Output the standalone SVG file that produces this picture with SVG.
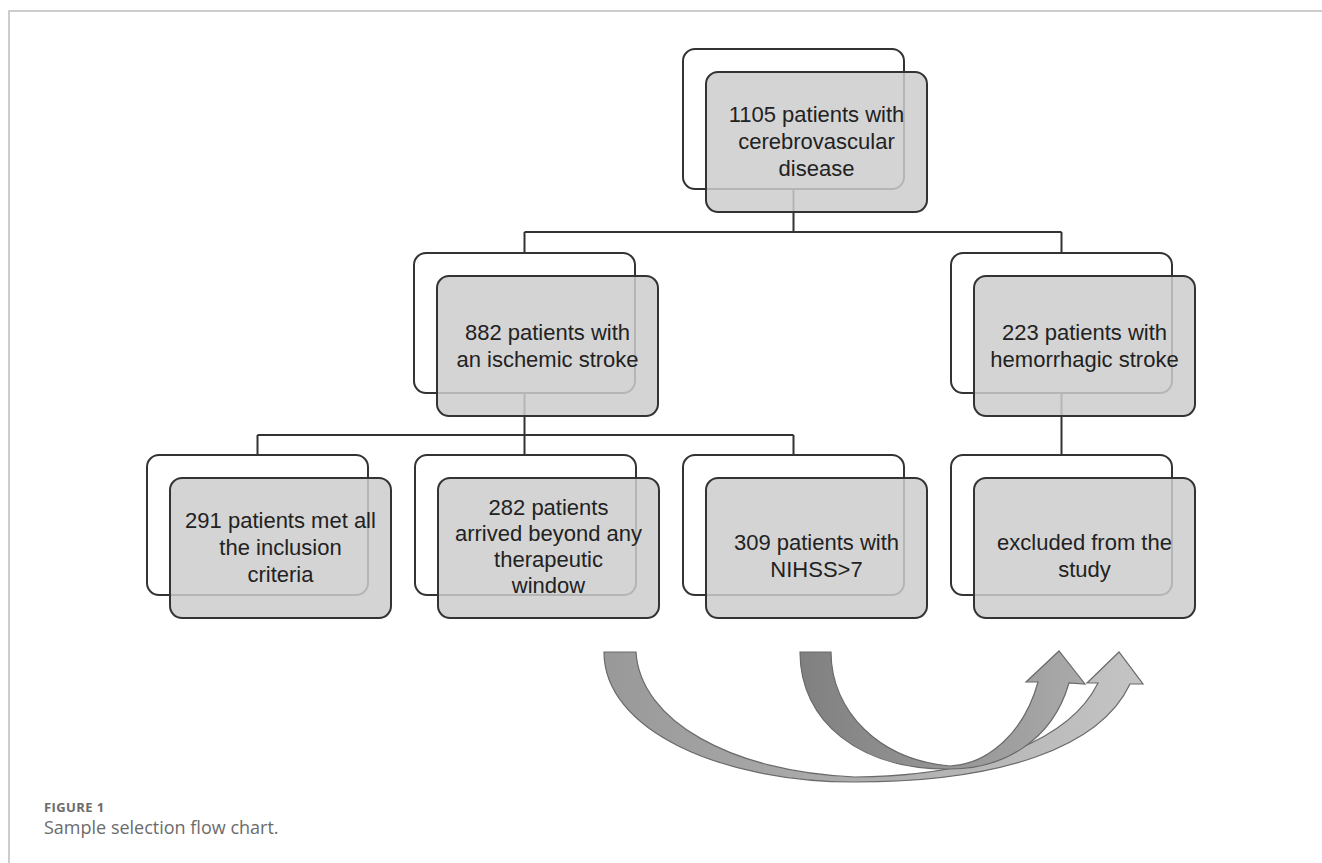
<svg xmlns="http://www.w3.org/2000/svg" width="1322" height="863" viewBox="0 0 1322 863">
<defs>
<style>
.back{fill:#ffffff;stroke:#333333;stroke-width:2}
.front{fill:#cccccc;fill-opacity:0.85;stroke:#333333;stroke-width:2;stroke-opacity:1}
.conn{fill:none;stroke:#333333;stroke-width:2}
.lbl{font-family:"Liberation Sans",Arial,sans-serif;font-size:22px;fill:#222222;text-anchor:middle}
.cap1{font-family:"Open Sans","Noto Sans",sans-serif;font-size:13px;font-weight:700;fill:#6b6b6b;letter-spacing:0.4px}
.cap2{font-family:"Open Sans","Noto Sans",sans-serif;font-size:18px;fill:#6b6b6b}
.arr{stroke:#6a6a6a;stroke-width:1.2}
</style>
<linearGradient id="gA" x1="0" y1="0" x2="1" y2="0">
<stop offset="0" stop-color="#999999"/>
<stop offset="1" stop-color="#c4c4c4"/>
</linearGradient>
<linearGradient id="gB" x1="0" y1="0" x2="1" y2="0">
<stop offset="0" stop-color="#808080"/>
<stop offset="1" stop-color="#aaaaaa"/>
</linearGradient>
</defs>
<rect width="1322" height="863" fill="#ffffff"/>
<g id="frame" fill="none" stroke="#bdbdbd" stroke-width="1.5">
<path d="M9,863 L9,11 L1322,11"/>
</g>
<g id="connectors">
<path class="conn" d="M793.5,189 V232 M524.5,232 H1061.5 M524.5,232 V253 M1061.5,232 V253"/>
<path class="conn" d="M524.5,393 V435 M257.5,435 H793.5 M257.5,435 V455 M524.5,435 V455 M793.5,435 V455"/>
<path class="conn" d="M1061.5,393 V455"/>
</g>
<g id="n1">
<rect class="back" x="683" y="49" width="221" height="140" rx="12"/>
<rect class="front" x="706" y="72" width="221" height="140" rx="12"/>
<text class="lbl"><tspan x="816.5" y="122">1105 patients with</tspan><tspan x="816.5" y="149">cerebrovascular</tspan><tspan x="816.5" y="176">disease</tspan></text>
</g>
<g id="n2">
<rect class="back" x="414" y="253" width="221" height="140" rx="12"/>
<rect class="front" x="437" y="276" width="221" height="140" rx="12"/>
<text class="lbl"><tspan x="547.5" y="340">882 patients with</tspan><tspan x="547.5" y="367">an ischemic stroke</tspan></text>
</g>
<g id="n3">
<rect class="back" x="951" y="253" width="221" height="140" rx="12"/>
<rect class="front" x="974" y="276" width="221" height="140" rx="12"/>
<text class="lbl"><tspan x="1084.5" y="340">223 patients with</tspan><tspan x="1084.5" y="367">hemorrhagic stroke</tspan></text>
</g>
<g id="n4">
<rect class="back" x="147" y="455" width="221" height="140" rx="12"/>
<rect class="front" x="170" y="478" width="221" height="140" rx="12"/>
<text class="lbl"><tspan x="280.5" y="528">291 patients met all</tspan><tspan x="280.5" y="555">the inclusion</tspan><tspan x="280.5" y="582">criteria</tspan></text>
</g>
<g id="n5">
<rect class="back" x="415" y="455" width="221" height="140" rx="12"/>
<rect class="front" x="438" y="478" width="221" height="140" rx="12"/>
<text class="lbl"><tspan x="548.5" y="515">282 patients</tspan><tspan x="548.5" y="541">arrived beyond any</tspan><tspan x="548.5" y="567">therapeutic</tspan><tspan x="548.5" y="593">window</tspan></text>
</g>
<g id="n6">
<rect class="back" x="683" y="455" width="221" height="140" rx="12"/>
<rect class="front" x="706" y="478" width="221" height="140" rx="12"/>
<text class="lbl"><tspan x="816.5" y="550">309 patients with</tspan><tspan x="816.5" y="577">NIHSS&gt;7</tspan></text>
</g>
<g id="n7">
<rect class="back" x="951" y="455" width="221" height="140" rx="12"/>
<rect class="front" x="974" y="478" width="221" height="140" rx="12"/>
<text class="lbl"><tspan x="1084.5" y="550">excluded from the</tspan><tspan x="1084.5" y="577">study</tspan></text>
</g>
<g id="arrows">
<path id="arrowA" class="arr" fill="url(#gA)" d="M604,652 L636,652 C640,720 730,772 855,777 C980,776 1070,740 1098,683 L1087,683 L1119,652 L1143,684 L1130,684 C1100,748 1000,782 855,782 C720,782 604,730 604,652 Z"/>
<path id="arrowB" class="arr" fill="url(#gB)" d="M800,652 L831,652 C831,712 880,760 950,766 C990,764 1025,730 1038,682 L1026,682 L1059,651 L1085,684 L1069,683 C1052,742 1002,769 950,769 C860,770 800,722 800,652 Z"/>
</g>
<g id="caption">
<text class="cap1" x="44" y="812">FIGURE 1</text>
<text class="cap2" x="44" y="834">Sample selection flow chart.</text>
</g>
</svg>
